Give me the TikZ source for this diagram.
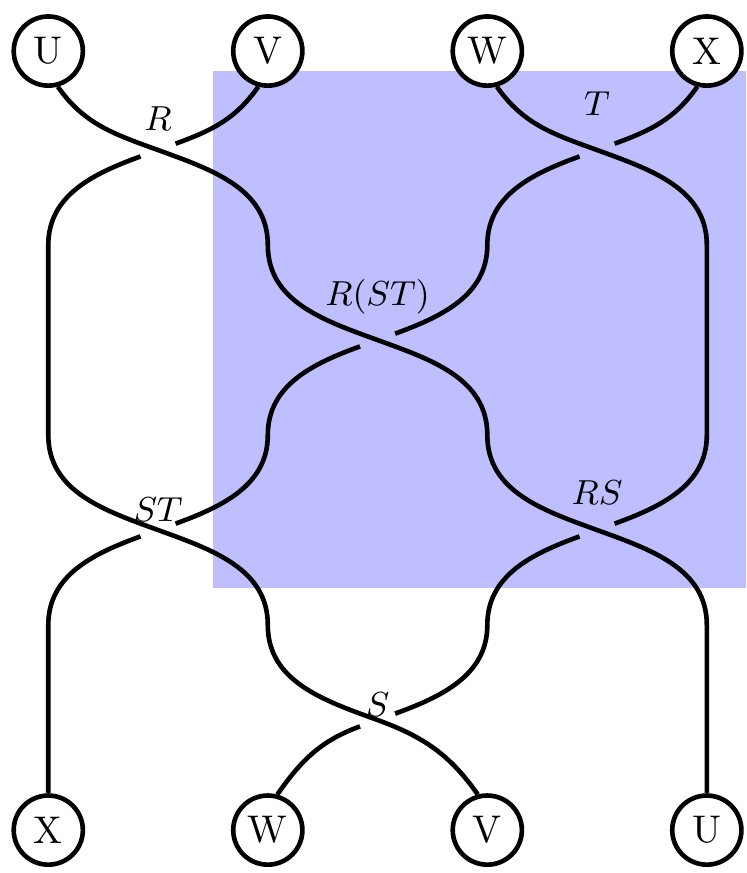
\documentclass[tikz,border=0pt]{standalone}
\usepackage{tikz}
\usetikzlibrary{calc}

\begin{document}
\begin{tikzpicture}[
  strand/.style={line width=1.2pt},
  endpt/.style={draw, circle, line width=1.2pt, fill=white, minimum size=0.63cm, inner sep=0pt},
  lbl/.style={inner sep=0pt, font=\small},
]
\useasboundingbox (0,0) rectangle (6.797,-7.954);
% ---------- shaded region ----------
\fill[blue!25] (1.941,-0.647) rectangle (6.797,-5.36);

% ---------- end points: top and bottom ----------
\node[endpt] (Ut) at (0.44,-0.465) {U};
\node[endpt] (Vt) at (2.44,-0.465) {V};
\node[endpt] (Wt) at (4.44,-0.465) {W};
\node[endpt] (Xt) at (6.44,-0.465) {X};
\node[endpt] (Xb) at (0.44,-7.563) {X};
\node[endpt] (Wb) at (2.44,-7.563) {W};
\node[endpt] (Vb) at (4.44,-7.563) {V};
\node[endpt] (Ub) at (6.44,-7.563) {U};

% ---------- crossings and turning points ----------
\coordinate (cR)   at (1.44,-1.367);
\coordinate (cT)   at (5.44,-1.367);
\coordinate (cRST) at (3.44,-3.098);
\coordinate (cST)  at (1.44,-4.829);
\coordinate (cRS)  at (5.44,-4.829);
\coordinate (cS)   at (3.44,-6.560);
\foreach \c in {cR,cT,cRST,cST,cRS,cS} {
  \coordinate (\c-a) at ($(\c)+(20:0.17)$);
  \coordinate (\c-b) at ($(\c)+(200:0.17)$);
}
\foreach \k in {1,...,4}
  \foreach \l in {1,2,3}
    \coordinate (p\k\l) at ({0.44+2*(\k-1)},{-2.2325-1.731*(\l-1)});

% ---------- strands ----------
% U: over at every crossing
\draw[strand] (Ut.-75) to[out=-55,in=160] (cR) to[out=-20,in=90] (p21)
  to[out=-90,in=160] (cRST) to[out=-20,in=90] (p32)
  to[out=-90,in=160] (cRS) to[out=-20,in=90] (p43) -- (Ub);
% V
\draw[strand] (Vt.-105) to[out=-125,in=20] (cR-a);
\draw[strand] (cR-b) to[out=200,in=90] (p11) -- (p12)
  to[out=-90,in=160] (cST) to[out=-20,in=90] (p23)
  to[out=-90,in=160] (cS) to[out=-20,in=125] (Vb.105);
% W
\draw[strand] (Wt.-75) to[out=-55,in=160] (cT) to[out=-20,in=90] (p41) -- (p42)
  to[out=-90,in=20] (cRS-a);
\draw[strand] (cRS-b) to[out=200,in=90] (p33) to[out=-90,in=20] (cS-a);
\draw[strand] (cS-b) to[out=200,in=55] (Wb.75);
% X: under at every crossing
\draw[strand] (Xt.-105) to[out=-125,in=20] (cT-a);
\draw[strand] (cT-b) to[out=200,in=90] (p31) to[out=-90,in=20] (cRST-a);
\draw[strand] (cRST-b) to[out=200,in=90] (p22) to[out=-90,in=20] (cST-a);
\draw[strand] (cST-b) to[out=200,in=90] (p13) -- (Xb);

% ---------- labels ----------
\node[lbl] (lR)   at ($(cR)+(0,0.29)$)    {$R$};
\node[lbl] (lT)   at ($(cT)+(0,0.42)$)    {$T$};
\node[lbl] (lRST) at ($(cRST)+(0,0.39)$)  {$R(ST)$};
\node[lbl] (lST)  at ($(cST)+(0,0.19)$)   {$ST$};
\node[lbl] (lRS)  at ($(cRS)+(0,0.34)$)   {$RS$};
\node[lbl] (lS)   at ($(cS)+(0,0.14)$)    {$S$};
\end{tikzpicture}
\end{document}
